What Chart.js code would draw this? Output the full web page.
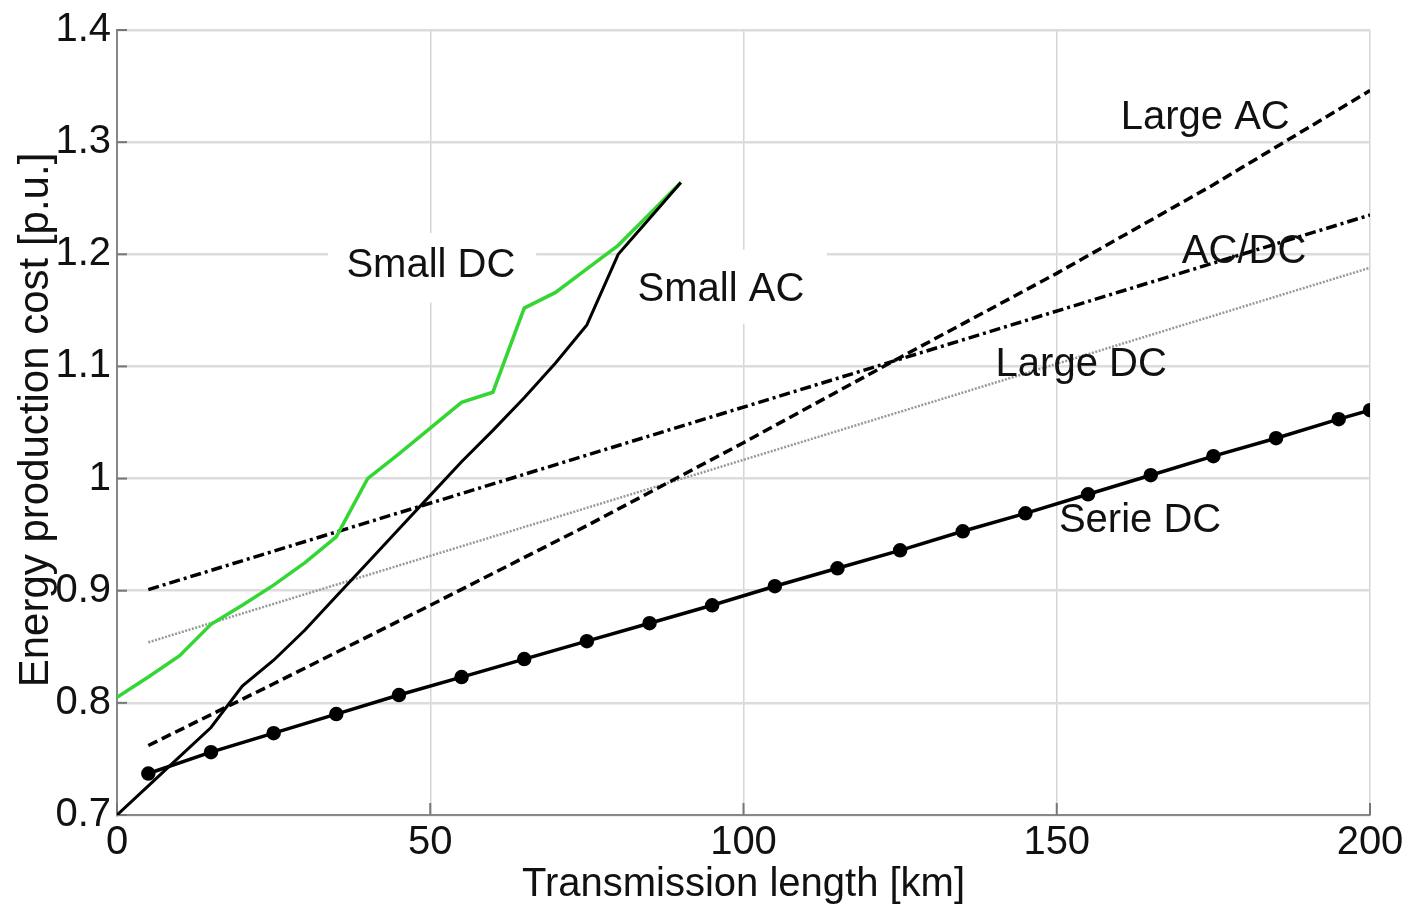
<!DOCTYPE html>
<html>
<head>
<meta charset="utf-8">
<script src="https://cdn.jsdelivr.net/npm/chart.js@4/dist/chart.umd.min.js"></script>
<style>
  body { margin: 0; background: #fff; }
  #contenedor { width: 1409px; height: 907px; }
</style>
</head>
<body>
<div id="contenedor"><canvas id="grafico" width="1409" height="907"></canvas></div>
<script>
// Datos (longitud en km, coste en p.u.)
const serieDcKm = [5, 15, 25, 35, 45, 55, 65, 75, 85, 95, 105, 115, 125, 135, 145, 155, 165, 175, 185, 195, 200];
const serieDcCoste = [0.737, 0.756, 0.773, 0.790, 0.807, 0.823, 0.839, 0.855, 0.871, 0.887, 0.904, 0.920, 0.936, 0.953, 0.969, 0.986, 1.003, 1.020, 1.036, 1.053, 1.061];

const smallKm = [0, 5, 10, 15, 20, 25, 30, 35, 40, 45, 50, 55, 60, 65, 70, 75, 80, 85, 90];
const smallAcCoste = [0.700, 0.726, 0.752, 0.778, 0.815, 0.838, 0.865, 0.895, 0.925, 0.955, 0.985, 1.015, 1.043, 1.072, 1.103, 1.137, 1.200, 1.232, 1.264];
const smallDcCoste = [0.805, 0.823, 0.842, 0.870, 0.887, 0.905, 0.925, 0.948, 1.000, 1.022, 1.045, 1.068, 1.077, 1.152, 1.166, 1.187, 1.208, 1.236, 1.264];

const largeAcKm = [5, 25, 50, 75, 100, 125, 150, 175, 200];
const largeAcCoste = [0.762, 0.817, 0.887, 0.958, 1.032, 1.108, 1.183, 1.262, 1.346];

const rectaKm = [5, 200];
const acDcCoste = [0.901, 1.235];
const largeDcCoste = [0.854, 1.188];

const ticksX = [0, 50, 100, 150, 200];
const ticksY = [0.7, 0.8, 0.9, 1, 1.1, 1.2, 1.3, 1.4];

// Etiquetas de las curvas (posición en unidades de los ejes)
const etiquetas = [
    { texto: 'Large AC', x: 173.7, y: 1.322 },
    { texto: 'AC/DC', x: 179.9, y: 1.202 },
    { texto: 'Large DC', x: 153.9, y: 1.101 },
    { texto: 'Serie DC', x: 163.3, y: 0.962 },
    { texto: 'Small DC', x: 50.1, y: 1.190 },
    { texto: 'Small AC', x: 96.4, y: 1.168 },
];
// Fondos blancos detrás de las etiquetas "Small"
const cajas = [
    { x0: 33.7, x1: 66.9, y0: 1.157, y1: 1.219 },
    { x0: 79.8, x1: 113.3, y0: 1.138, y1: 1.204 },
];

const fuente = '"Liberation Sans", Arial, sans-serif';

function puntos(xs, ys) {
    return xs.map((x, i) => ({ x: x, y: ys[i] }));
}

// Plugin para cajas, etiquetas, ticks interiores y títulos de ejes
const extras = {
    id: 'extras',
    beforeDatasetsDraw(chart) {
        const ctx = chart.ctx;
        const sx = chart.scales.x;
        const sy = chart.scales.y;
        ctx.save();
        ctx.fillStyle = '#ffffff';
        cajas.forEach((c) => {
            const x0 = sx.getPixelForValue(c.x0);
            const x1 = sx.getPixelForValue(c.x1);
            const y0 = sy.getPixelForValue(c.y1);
            const y1 = sy.getPixelForValue(c.y0);
            ctx.fillRect(x0, y0, x1 - x0, y1 - y0);
        });
        // ticks hacia dentro
        ctx.strokeStyle = '#777';
        ctx.lineWidth = 2;
        const area = chart.chartArea;
        ticksY.forEach((v) => {
            const y = sy.getPixelForValue(v);
            ctx.beginPath();
            ctx.moveTo(area.left, y);
            ctx.lineTo(area.left + 10, y);
            ctx.stroke();
        });
        ticksX.forEach((v) => {
            const x = sx.getPixelForValue(v);
            ctx.beginPath();
            ctx.moveTo(x, area.bottom);
            ctx.lineTo(x, area.bottom - 12);
            ctx.stroke();
        });
        ctx.restore();
    },
    afterDatasetsDraw(chart) {
        const ctx = chart.ctx;
        const sx = chart.scales.x;
        const sy = chart.scales.y;
        ctx.save();
        ctx.fillStyle = '#111';
        ctx.font = '40px ' + fuente;
        ctx.textAlign = 'center';
        ctx.textBaseline = 'middle';
        etiquetas.forEach((e) => {
            ctx.fillText(e.texto, sx.getPixelForValue(e.x), sy.getPixelForValue(e.y));
        });
        // títulos de los ejes
        ctx.fillText('Transmission length [km]', (chart.chartArea.left + chart.chartArea.right) / 2, 885);
        ctx.font = '42px ' + fuente;
        ctx.translate(36, 420);
        ctx.rotate(-Math.PI / 2);
        ctx.fillText('Energy production cost [p.u.]', 0, 0);
        ctx.restore();
    },
};

const ctxGrafico = document.getElementById('grafico').getContext('2d');
new Chart(ctxGrafico, {
    type: 'line',
    data: {
        datasets: [
            {
                label: 'Serie DC',
                data: puntos(serieDcKm, serieDcCoste),
                borderColor: '#000',
                backgroundColor: '#000',
                borderWidth: 3.5,
                pointRadius: 5.5,
                pointBackgroundColor: '#000',
            },
            {
                label: 'Small AC',
                data: puntos(smallKm, smallAcCoste),
                borderColor: '#000',
                borderWidth: 3,
                pointRadius: 0,
            },
            {
                label: 'Small DC',
                data: puntos(smallKm, smallDcCoste),
                borderColor: '#33d633',
                borderWidth: 3.5,
                pointRadius: 0,
            },
            {
                label: 'Large AC',
                data: puntos(largeAcKm, largeAcCoste),
                borderColor: '#000',
                borderWidth: 3.5,
                borderDash: [10, 5],
                pointRadius: 0,
            },
            {
                label: 'AC/DC',
                data: puntos(rectaKm, acDcCoste),
                borderColor: '#000',
                borderWidth: 3.5,
                borderDash: [11, 4, 3, 4],
                pointRadius: 0,
            },
            {
                label: 'Large DC',
                data: puntos(rectaKm, largeDcCoste),
                borderColor: '#999',
                borderWidth: 2.5,
                borderDash: [2, 1.5],
                pointRadius: 0,
            },
        ],
    },
    options: {
        responsive: false,
        animation: false,
        devicePixelRatio: 1,
        layout: { padding: { top: 27, right: 39, left: 0, bottom: 0 } },
        plugins: {
            legend: { display: false },
            tooltip: { enabled: false },
        },
        scales: {
            x: {
                type: 'linear',
                min: 0,
                max: 200,
                afterBuildTicks: (s) => { s.ticks = ticksX.map((v) => ({ value: v })); },
                afterFit: (s) => { s.height = 907 - 815; },
                ticks: { color: '#111', font: { size: 40, family: fuente }, padding: 4 },
                grid: { color: '#d6d6d6', lineWidth: 1.5, drawTicks: false },
                border: { color: '#888', width: 2, dash: [] },
            },
            y: {
                type: 'linear',
                min: 0.7,
                max: 1.4,
                afterBuildTicks: (s) => { s.ticks = ticksY.map((v) => ({ value: v })); },
                afterFit: (s) => { s.width = 117; },
                ticks: {
                    color: '#111',
                    font: { size: 40, family: fuente },
                    padding: 6,
                    callback: (v) => (v === 1 ? '1' : v.toFixed(1)),
                },
                grid: { color: '#dcdcdc', lineWidth: 2.5, drawTicks: false },
                border: { color: '#888', width: 2 },
            },
        },
    },
    plugins: [extras],
});
</script>
</body>
</html>
